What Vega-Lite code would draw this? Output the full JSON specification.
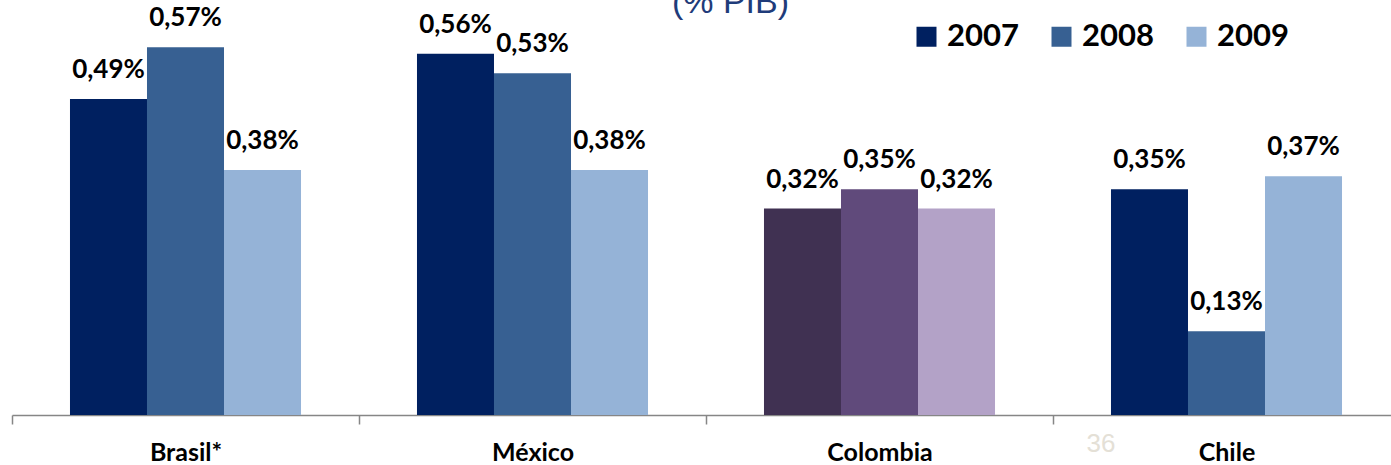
{
  "$schema": "https://vega.github.io/schema/vega-lite/v6.json",
  "width": 1379,
  "height": 415,
  "autosize": {"type": "none"},
  "padding": {"left": 12, "top": 0, "right": 0, "bottom": 50},
  "title": {
    "text": "(% PIB)",
    "font": "Liberation Sans",
    "fontSize": 34,
    "fontWeight": "normal",
    "color": "#1F3C7A",
    "anchor": "middle",
    "frame": "group",
    "baseline": "alphabetic",
    "offset": 0,
    "dx": 29,
    "dy": 47
  },
  "config": {
    "locale": {"number": {"decimal": ",", "thousands": ".", "grouping": [3], "currency": ["", ""]}},
    "view": {"stroke": null}
  },
  "data": {
    "values": [
      {"pais": "Brasil*", "anio": "2007", "gasto": 0.0049},
      {"pais": "Brasil*", "anio": "2008", "gasto": 0.0057},
      {"pais": "Brasil*", "anio": "2009", "gasto": 0.0038},
      {"pais": "México", "anio": "2007", "gasto": 0.0056},
      {"pais": "México", "anio": "2008", "gasto": 0.0053},
      {"pais": "México", "anio": "2009", "gasto": 0.0038},
      {"pais": "Colombia", "anio": "2007", "gasto": 0.0032},
      {"pais": "Colombia", "anio": "2008", "gasto": 0.0035},
      {"pais": "Colombia", "anio": "2009", "gasto": 0.0032},
      {"pais": "Chile", "anio": "2007", "gasto": 0.0035},
      {"pais": "Chile", "anio": "2008", "gasto": 0.0013},
      {"pais": "Chile", "anio": "2009", "gasto": 0.0037}
    ]
  },
  "layer": [
    {
      "transform": [{"filter": "datum.pais !== 'Colombia'"}],
      "mark": {"type": "bar"},
      "encoding": {
        "x": {
          "field": "pais",
          "type": "nominal",
          "sort": ["Brasil*", "México", "Colombia", "Chile"],
          "scale": {"range": [0, 1388], "paddingInner": 0, "paddingOuter": 0},
          "axis": {
            "title": null,
            "labelAngle": 0,
            "labelFont": "Lato",
            "labelFontSize": 25,
            "labelFontWeight": "bold",
            "labelColor": "#000000",
            "labelBaseline": "alphabetic",
            "labelPadding": 36,
            "tickBand": "extent",
            "tickSize": 9,
            "tickWidth": 1.5,
            "tickColor": "#868686",
            "domainColor": "#868686",
            "domainWidth": 1.5
          }
        },
        "xOffset": {"field": "anio", "type": "nominal", "scale": {"paddingInner": 0, "paddingOuter": 0.753}},
        "y": {
          "field": "gasto",
          "type": "quantitative",
          "scale": {"domain": [0, 0.006434], "nice": false, "zero": true},
          "axis": null
        },
        "color": {
          "field": "anio",
          "type": "nominal",
          "scale": {"domain": ["2007", "2008", "2009"], "range": ["#002060", "#376092", "#95B3D7"]},
          "legend": {
            "title": null,
            "orient": "none",
            "direction": "horizontal",
            "legendX": 899,
            "legendY": 21,
            "padding": 0,
            "symbolType": "square",
            "symbolSize": 400,
            "symbolStrokeWidth": 0,
            "labelFont": "Lato",
            "labelFontSize": 31,
            "labelFontWeight": "bold",
            "labelColor": "#000000",
            "labelOffset": 5,
            "columnPadding": 27
          }
        }
      }
    },
    {
      "transform": [{"filter": "datum.pais === 'Colombia'"}],
      "mark": {"type": "bar"},
      "encoding": {
        "x": {"field": "pais", "type": "nominal", "sort": ["Brasil*", "México", "Colombia", "Chile"]},
        "xOffset": {"field": "anio", "type": "nominal"},
        "y": {"field": "gasto", "type": "quantitative"},
        "color": {
          "field": "anio",
          "type": "nominal",
          "scale": {"domain": ["2007", "2008", "2009"], "range": ["#403152", "#604A7B", "#B3A2C7"]},
          "legend": null
        }
      }
    },
    {
      "mark": {
        "type": "text",
        "font": "Lato",
        "fontSize": 26,
        "fontWeight": "bold",
        "color": "#000000",
        "baseline": "alphabetic",
        "dy": -21
      },
      "encoding": {
        "x": {"field": "pais", "type": "nominal", "sort": ["Brasil*", "México", "Colombia", "Chile"]},
        "xOffset": {"field": "anio", "type": "nominal"},
        "y": {"field": "gasto", "type": "quantitative"},
        "text": {"field": "gasto", "type": "quantitative", "format": ".2%"}
      }
    },
    {
      "data": {"values": [{"pais": "Chile", "pagina": "36"}]},
      "mark": {
        "type": "text",
        "font": "Liberation Sans",
        "fontSize": 26,
        "color": "#E4E0D6",
        "baseline": "alphabetic",
        "dx": -125.5,
        "dy": 37
      },
      "encoding": {
        "x": {"field": "pais", "type": "nominal", "sort": ["Brasil*", "México", "Colombia", "Chile"]},
        "y": {"datum": 0, "type": "quantitative"},
        "text": {"field": "pagina"}
      }
    }
  ],
  "resolve": {"scale": {"color": "independent"}}
}
